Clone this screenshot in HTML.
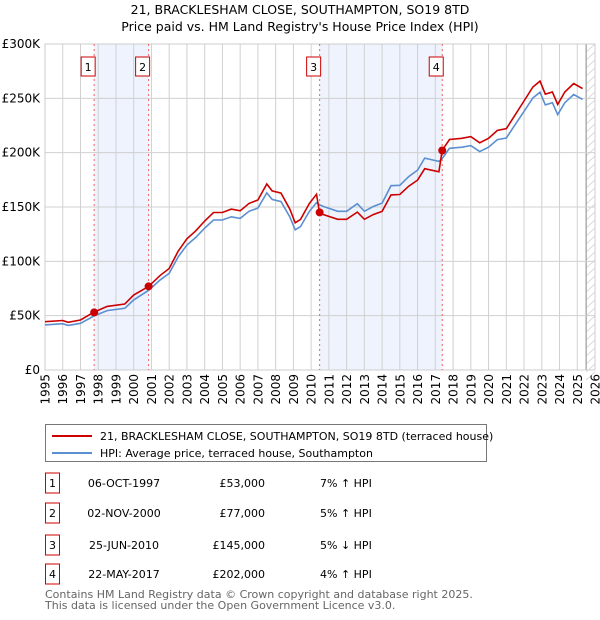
<!DOCTYPE html>
<html><head><meta charset="utf-8"><style>
body{margin:0;background:#fff;font-family:"Liberation Sans","DejaVu Sans",sans-serif}
#wrap{position:relative;width:600px;height:620px;overflow:hidden}
svg text{font-family:"DejaVu Sans","Liberation Sans",sans-serif}
</style></head><body><div id="wrap">
<svg id="chart" width="600" height="620">
<text x="300" y="14" text-anchor="middle" font-size="12.5">21, BRACKLESHAM CLOSE, SOUTHAMPTON, SO19 8TD</text>
<text x="300" y="31" text-anchor="middle" font-size="12.5">Price paid vs. HM Land Registry's House Price Index (HPI)</text>
<g id="grid"></g><g id="marks"></g>
<g>
<rect x="45.5" y="424.5" width="441" height="37" fill="#fff" stroke="#777"/>
<line x1="52" y1="436" x2="92" y2="436" stroke="#cc0000" stroke-width="2"/>
<text x="100" y="440" font-size="11">21, BRACKLESHAM CLOSE, SOUTHAMPTON, SO19 8TD (terraced house)</text>
<line x1="52" y1="453" x2="92" y2="453" stroke="#5b8fd0" stroke-width="2"/>
<text x="100" y="457" font-size="11">HPI: Average price, terraced house, Southampton</text>
</g>
<g id="table" font-size="11"></g>
<text x="45" y="598" font-size="11" fill="#666">Contains HM Land Registry data © Crown copyright and database right 2025.</text>
<text x="45" y="609" font-size="11" fill="#666">This data is licensed under the Open Government Licence v3.0.</text>
</svg></div>
<script>
const hpiYears=[1995,1996,1996.3,1997,1997.77,1998.5,1999.5,2000,2000.84,2001.5,2002,2002.5,2003,2003.5,2004,2004.5,2005,2005.5,2006,2006.5,2007,2007.5,2007.8,2008.3,2008.8,2009.1,2009.4,2009.9,2010.3,2010.48,2010.7,2011.5,2012,2012.6,2013,2013.5,2014,2014.5,2015,2015.5,2016,2016.4,2017.2,2017.39,2017.8,2018.5,2019,2019.5,2020,2020.5,2021,2021.5,2022,2022.5,2022.9,2023.2,2023.6,2023.9,2024.3,2024.8,2025.3];
const hpiValues=[41500,42600,41000,43000,49800,54700,56800,64500,73300,83000,89000,104000,115000,122000,130600,138000,138000,141000,139500,146000,149000,163000,157000,155000,141000,129000,132000,146000,154000,152000,150500,146000,146000,153000,146000,150500,153600,169600,170000,178000,184000,195000,192000,194500,204000,205000,206500,201000,205000,212000,213500,225800,238000,250400,255600,244000,246000,235000,246000,253500,249000];
const saleYears=[1997.77,2000.84,2010.48,2017.39];
const salePrices=[53000,77000,145000,202000];
const saleRatios=[1.07,1.05,0.95,1.04];
const saleDates=["06-OCT-1997","02-NOV-2000","25-JUN-2010","22-MAY-2017"];
const saleLabels=["£53,000","£77,000","£145,000","£202,000"];
const saleDiffs=["7% ↑ HPI","5% ↑ HPI","5% ↓ HPI","4% ↑ HPI"];
const yTicks=[0,50000,100000,150000,200000,250000,300000];
const yTickLabels=["£0","£50K","£100K","£150K","£200K","£250K","£300K"];
const xTicks=[1995,1996,1997,1998,1999,2000,2001,2002,2003,2004,2005,2006,2007,2008,2009,2010,2011,2012,2013,2014,2015,2016,2017,2018,2019,2020,2021,2022,2023,2024,2025,2026];

const L=45,R=595,T=44,B=370;
const x=y=>L+(y-1995)/(2026-1995)*(R-L);
const yv=v=>B-v/300000*(B-T);
const NS="http://www.w3.org/2000/svg";
function mk(tag,attrs,parent){const e=document.createElementNS(NS,tag);for(const k in attrs)e.setAttribute(k,attrs[k]);parent.appendChild(e);return e;}
const grid=document.getElementById('grid'),marks=document.getElementById('marks'),tbl=document.getElementById('table');
// shaded bands
for(let i=0;i<saleYears.length;i+=2){const r=mk('rect',{x:x(saleYears[i]),y:T,width:x(saleYears[i+1])-x(saleYears[i]),height:B-T,fill:'#eef3fd'},grid);

}
// hatch
const hx=x(2025.5);
const hatch=mk('g',{},grid);


for(let yy=T;yy<B+10;yy+=8)mk('line',{x1:hx,y1:yy+8,x2:R,y2:yy,stroke:'#ccc','stroke-width':0.7},hatch);
mk('line',{x1:hx,y1:T,x2:hx,y2:B,stroke:'#888'},grid);
xTicks.forEach(t=>{const l=mk('line',{x1:x(t),y1:T,x2:x(t),y2:B,stroke:'#d0d0d0'},grid);


const tx=mk('text',{x:0,y:0,'font-size':12,'text-anchor':'end',transform:`translate(${x(t)+4.5},374) rotate(-90)`},grid);tx.textContent=t;

});
yTicks.forEach((t,i)=>{const l=mk('line',{x1:L,y1:yv(t),x2:R,y2:yv(t),stroke:'#d0d0d0'},grid);


const tx=mk('text',{x:40,y:yv(t)+4,'font-size':12,'text-anchor':'end'},grid);tx.textContent=yTickLabels[i];

});
mk('rect',{x:L,y:T,width:R-L,height:B-T,fill:'none',stroke:'#ccc'},grid);
// sale lines + boxes
saleYears.forEach((s,i)=>{const l=mk('line',{x1:x(s),y1:T,x2:x(s),y2:B,stroke:'#f06060','stroke-dasharray':'2,3'},grid);


const g=mk('g',{},marks);


mk('rect',{x:x(s)-13,y:57,width:14,height:19,fill:'#fff',stroke:'#cc0000'},g);
const t=mk('text',{x:x(s)-6,y:71,'font-size':11,'text-anchor':'middle'},g);t.textContent=i+1;});
// lines
let hp='',rp='';
hpiYears.forEach((yr,i)=>{let k=0;for(let j=0;j<saleYears.length;j++)if(yr>=saleYears[j]-0.001)k=j;
hp+=(i?'L':'M')+x(yr).toFixed(1)+','+yv(hpiValues[i]).toFixed(1);
rp+=(i?'L':'M')+x(yr).toFixed(1)+','+yv(hpiValues[i]*saleRatios[k]).toFixed(1);});
const hl=mk('path',{d:hp,fill:'none',stroke:'#5b8fd0','stroke-width':1.6},marks);


const rl=mk('path',{d:rp,fill:'none',stroke:'#cc0000','stroke-width':1.6},marks);


saleYears.forEach((s,i)=>{const c=mk('circle',{cx:x(s),cy:yv(salePrices[i]),r:4,fill:'#cc0000'},marks);

});
// table
const rowY=[483,513,545,574];
saleDates.forEach((d,i)=>{const g=mk('g',{},tbl);


mk('rect',{x:45.5,y:rowY[i]-10,width:14,height:20,fill:'#fff',stroke:'#cc0000'},g);
let t=mk('text',{x:52.5,y:rowY[i]+4,'text-anchor':'middle'},g);t.textContent=i+1;
t=mk('text',{x:124,y:rowY[i]+4,'text-anchor':'middle'},g);t.textContent=d;
t=mk('text',{x:265,y:rowY[i]+4,'text-anchor':'end'},g);t.textContent=saleLabels[i];
t=mk('text',{x:320,y:rowY[i]+4},g);t.textContent=saleDiffs[i];});
</script></body></html>
